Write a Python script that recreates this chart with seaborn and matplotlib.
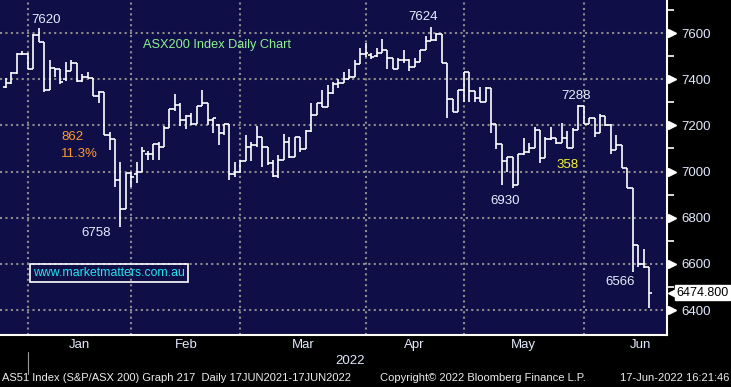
import matplotlib
matplotlib.use("Agg")
import numpy as np
import pandas as pd
import seaborn as sns
import matplotlib.pyplot as plt
from matplotlib import font_manager as fm
from matplotlib.ticker import FixedLocator

# daily OHLC bars, ASX200, late Dec 2021 to 17 Jun 2022
opens = [7367, 7384, 7427, 7508, 7511, 7442, 7590, 7561, 7355, 7450, 7446, 7400, 7436, 7470, 7393, 7410,
         7407, 7327, 7345, 7158, 7141, 6962, 6837, 6993, 6990, 6996, 7075, 7075, 7118, 7108, 7187, 7269,
         7288, 7223, 7242, 7204, 7283, 7298, 7223, 7200, 7165, 7204, 6990, 7000, 7047, 7108, 7115, 7148,
         7108, 7036, 6981, 7050, 7129, 7065, 7148, 7098, 7177, 7247, 7295, 7278, 7341, 7381, 7384, 7401,
         7410, 7465, 7508, 7504, 7500, 7512, 7526, 7490, 7442, 7483, 7483, 7454, 7475, 7526, 7565, 7570,
         7594, 7472, 7316, 7258, 7355, 7432, 7348, 7320, 7302, 7363, 7204, 7118, 7047, 7062, 6940, 7075,
         7085, 7101, 7178, 7058, 7140, 7144, 7125, 7147, 7101, 7178, 7283, 7207, 7230, 7168, 7240, 7200,
         7092, 7115, 7015, 6929, 6683, 6598, 6587]
highs = [7403, 7432, 7514, 7521, 7514, 7597, 7620, 7561, 7485, 7450, 7446, 7475, 7482, 7470, 7424, 7432,
         7407, 7350, 7345, 7173, 7141, 7043, 6993, 7000, 7043, 7108, 7089, 7118, 7129, 7197, 7269, 7335,
         7298, 7245, 7252, 7283, 7355, 7298, 7230, 7206, 7204, 7204, 7043, 7050, 7158, 7129, 7197, 7148,
         7108, 7050, 7072, 7163, 7151, 7148, 7148, 7180, 7298, 7298, 7352, 7377, 7387, 7399, 7429, 7446,
         7482, 7533, 7555, 7515, 7533, 7572, 7526, 7490, 7490, 7526, 7486, 7490, 7526, 7587, 7624, 7601,
         7594, 7472, 7316, 7355, 7432, 7432, 7348, 7367, 7367, 7363, 7204, 7118, 7065, 7065, 7075, 7147,
         7125, 7193, 7178, 7150, 7193, 7147, 7211, 7176, 7190, 7288, 7286, 7233, 7233, 7250, 7240, 7204,
         7158, 7115, 7015, 6929, 6683, 6666, 6587]
lows = [7360, 7381, 7424, 7504, 7442, 7442, 7561, 7345, 7355, 7410, 7381, 7393, 7436, 7388, 7388, 7403,
        7327, 7298, 7158, 7093, 6935, 6758, 6837, 6935, 6950, 6996, 7050, 7050, 7050, 7108, 7187, 7263,
        7197, 7183, 7201, 7204, 7283, 7201, 7165, 7115, 7158, 6964, 6978, 6993, 7047, 7047, 7108, 7021,
        7029, 6975, 6971, 7050, 7058, 7065, 7083, 7098, 7173, 7247, 7278, 7278, 7335, 7360, 7384, 7399,
        7410, 7465, 7497, 7486, 7497, 7512, 7442, 7442, 7442, 7468, 7436, 7454, 7475, 7526, 7565, 7565,
        7468, 7233, 7258, 7258, 7302, 7302, 7302, 7302, 7302, 7165, 7096, 6940, 6996, 6930, 6940, 7072,
        7082, 7100, 7035, 7058, 7137, 7118, 7125, 7101, 7101, 7178, 7204, 7204, 7150, 7168, 7197, 7078,
        7092, 7015, 6929, 6565, 6587, 6584, 6410]
closes = [7384, 7427, 7508, 7508, 7442, 7590, 7561, 7355, 7450, 7446, 7388, 7436, 7470, 7393, 7410, 7407,
          7327, 7345, 7158, 7141, 6962, 6837, 6993, 6978, 6996, 7089, 7075, 7118, 7108, 7187, 7269, 7288,
          7223, 7242, 7204, 7283, 7298, 7223, 7230, 7165, 7204, 6990, 7000, 7047, 7108, 7115, 7151, 7108,
          7036, 6981, 7050, 7129, 7065, 7148, 7098, 7177, 7247, 7295, 7278, 7341, 7381, 7384, 7401, 7410,
          7465, 7508, 7512, 7494, 7512, 7526, 7490, 7442, 7483, 7483, 7454, 7475, 7526, 7565, 7570, 7594,
          7472, 7316, 7258, 7355, 7432, 7348, 7320, 7302, 7363, 7204, 7118, 7047, 7062, 6940, 7075, 7085,
          7104, 7178, 7058, 7140, 7144, 7125, 7147, 7101, 7178, 7283, 7207, 7230, 7168, 7240, 7200, 7092,
          7115, 7015, 6929, 6683, 6598, 6587, 6475]
last_price = 6474.8

month_starts = [4, 23, 43, 66, 84, 106]
june_end = 127  # bar slot where a full June would end
month_names = ["Jan", "Feb", "Mar", "Apr", "May", "Jun"]
price_ticks = [6400, 6600, 6800, 7000, 7200, 7400, 7600]

# (bar index, label, use high or low, pixel offset)
swing_labels = [(6, "7620", "high", (7, 8)),
                (78, "7624", "high", (-8, 10)),
                (105, "7288", "high", (-2, 9)),
                (21, "6758", "low", (-24, -6)),
                (93, "6930", "low", (-8, -13)),
                (115, "6566", "low", (-13, -10))]

df = pd.DataFrame({"open": opens, "high": highs, "low": lows, "close": closes})
df["x"] = np.arange(len(df))

sns.set_theme(style="dark", rc={"axes.facecolor": "#100e46", "figure.facecolor": "black"})
names = {f.name for f in fm.fontManager.ttflist}
plain = "Liberation Sans" if "Liberation Sans" in names else "DejaVu Sans"
plt.rcParams["font.family"] = [plain, "DejaVu Sans"]

fig = plt.figure(figsize=(7.31, 3.87), dpi=100, facecolor="black")
ax = fig.add_axes([0, 1 - 335 / 387, 667 / 731, 335 / 387])
ax.set_facecolor("#100e46")

bar_kw = dict(color="white", lw=1.2)
ax.vlines(df["x"], df["low"], df["high"], **bar_kw)
ax.hlines(df["open"], df["x"] - 0.5, df["x"], **bar_kw)
ax.hlines(df["close"], df["x"], df["x"] + 0.5, **bar_kw)

ax.set_xlim(-1.1, 121.3)
ax.set_ylim(6292, 7743)

# grid
ax.set_xticks(month_starts)
ax.set_yticks(price_ticks)
ax.grid(True, color="#8c8c8c", linestyle=(0, (1, 1.6)), lw=1.5)
ax.set_axisbelow(True)

# right price axis
ax.yaxis.tick_right()
ax.yaxis.set_minor_locator(FixedLocator(range(6500, 7800, 200)))
ax.tick_params(axis="y", which="major", length=0, pad=10, labelcolor="#e2e9ff", labelsize=9.5)
ax.tick_params(axis="y", which="minor", length=5, width=1.2, color="white", direction="out")
ytr = ax.get_yaxis_transform()
ax.plot([1.0075] * len(price_ticks), price_ticks, ls="none", marker=">", ms=6,
        color="white", transform=ytr, clip_on=False)

# bottom month axis
ax.tick_params(axis="x", which="major", length=4, width=1.2, color="white",
               direction="out", labelbottom=False)
mids = [(a + b) / 2 for a, b in zip(month_starts, month_starts[1:] + [june_end])]
ax.set_xticks(mids, minor=True)
ax.set_xticklabels(month_names, minor=True)
ax.tick_params(axis="x", which="minor", length=0, pad=3, labelcolor="#e2e9ff", labelsize=9.5)

for side in ["left", "top"]:
    ax.spines[side].set_visible(False)
for side in ["right", "bottom"]:
    ax.spines[side].set_color("white")
    ax.spines[side].set_linewidth(1.5)

ax.plot([month_starts[0]] * 2, [-0.05, -0.115], color="#9a9a9a", lw=0.8,
        transform=ax.get_xaxis_transform(), clip_on=False)

# last price flag
ax.plot([1.011], [last_price], marker="<", ms=9, color="white", ls="none",
        transform=ytr, clip_on=False)
ax.text(1.0135, last_price, f"{last_price:.3f}", transform=ytr, ha="left", va="center",
        fontsize=9, color="black",
        bbox=dict(boxstyle="square,pad=0.12", fc="white", ec="white"))

# swing labels
for i, txt, side, off in swing_labels:
    y = df["high"][i] if side == "high" else df["low"][i]
    ax.annotate(txt, (i, y), xytext=off, textcoords="offset pixels", ha="center",
                va="center", color="#e6eeff", fontsize=9.5)

ax.text(0.215, 0.865, "ASX200 Index Daily Chart", transform=ax.transAxes, color="#8ef08e",
        fontsize=9.2, va="center")
ax.text(0.092, 0.592, "862", transform=ax.transAxes, color="#ff9a2e", fontsize=9.5, va="center")
ax.text(0.092, 0.541, "11.3%", transform=ax.transAxes, color="#ff9a2e", fontsize=9.5, va="center")
ax.text(0.834, 0.508, "358", transform=ax.transAxes, color="#f4f43a", fontsize=9.5, va="center")
ax.text(0.0495, 0.185, "www.marketmatters.com.au", transform=ax.transAxes, color="#22e4ef",
        fontsize=8.8, va="center",
        bbox=dict(boxstyle="square,pad=0.25", fc="none", ec="white", lw=1.2))

# footer
fig.text(350 / 731, 1 - 361 / 387, "2022", color="#e2e9ff", ha="center", va="center",
         fontsize=9.5)
fig.text(2 / 731, 1 - 378 / 387, "AS51 Index (S&P/ASX 200) Graph 217  Daily 17JUN2021-17JUN2022",
         color="#ececec", ha="left", va="center", fontsize=8)
fig.text(380 / 731, 1 - 378 / 387, "Copyright\u00a9 2022 Bloomberg Finance L.P.",
         color="#ececec", ha="left", va="center", fontsize=8)
fig.text(729 / 731, 1 - 378 / 387, "17-Jun-2022 16:21:46",
         color="#ececec", ha="right", va="center", fontsize=8)

fig.savefig("out.png", dpi=100, facecolor="black")
